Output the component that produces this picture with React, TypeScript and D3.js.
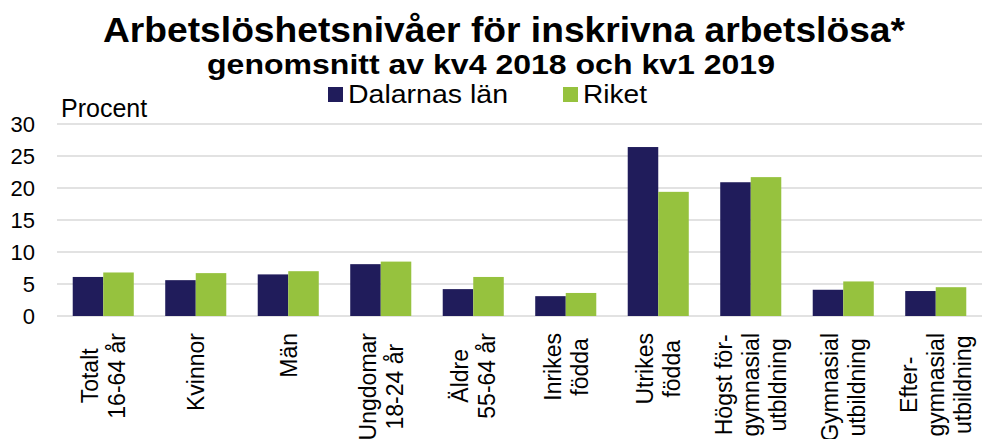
import React from "react";
import * as d3 from "d3";

const WIDTH = 982;
const HEIGHT = 439;
const Margin = { top: 124, right: 0, bottom: 123, left: 57 };
const FONT = "'Liberation Sans', Arial, sans-serif";

const categories = [
  "Totalt\n16-64 år",
  "Kvinnor",
  "Män",
  "Ungdomar\n18-24 år",
  "Äldre\n55-64 år",
  "Inrikes\nfödda",
  "Utrikes\nfödda",
  "Högst för-\ngymnasial\nutbldning",
  "Gymnasial\nutbildning",
  "Efter-\ngymnasial\nutbildning"
];
const seriesNames = ["Dalarnas län", "Riket"];
const seriesColors = ["#201C5B", "#96C23E"];
const dalarna = [6.1, 5.6, 6.5, 8.1, 4.2, 3.1, 26.4, 20.9, 4.1, 3.9];
const riket = [6.8, 6.7, 7.0, 8.5, 6.1, 3.6, 19.4, 21.7, 5.4, 4.5];
const yTicks = [0, 5, 10, 15, 20, 25, 30];

const App = () => {
  const svgRef = React.useRef<SVGSVGElement>(null);

  React.useEffect(() => {
    const svg = d3.select(svgRef.current);
    svg.selectAll("*").remove();

    const x = d3
      .scaleBand()
      .domain(categories)
      .range([Margin.left, WIDTH - Margin.right])
      .paddingInner(0.34)
      .paddingOuter(0.17);
    const x1 = d3
      .scaleBand()
      .domain(seriesNames)
      .range([0, x.bandwidth()]);
    const y = d3
      .scaleLinear()
      .domain([0, 30])
      .range([HEIGHT - Margin.bottom, Margin.top]);

    // titles
    svg
      .append("text")
      .attr("x", 103)
      .attr("y", 42)
      .attr("textLength", 802)
      .attr("lengthAdjust", "spacingAndGlyphs")
      .style("font", `bold 35px ${FONT}`)
      .text("Arbetslöshetsnivåer för inskrivna arbetslösa*");
    svg
      .append("text")
      .attr("x", 207)
      .attr("y", 74)
      .attr("textLength", 568)
      .attr("lengthAdjust", "spacingAndGlyphs")
      .style("font", `bold 28px ${FONT}`)
      .text("genomsnitt av kv4 2018 och kv1 2019");

    // legend
    const legendX = [328, 563];
    const legendW = [160, 64];
    seriesNames.forEach((name, i) => {
      svg
        .append("rect")
        .attr("x", legendX[i])
        .attr("y", 87)
        .attr("width", 15)
        .attr("height", 15)
        .attr("fill", seriesColors[i]);
      svg
        .append("text")
        .attr("x", legendX[i] + 20)
        .attr("y", 103)
        .attr("textLength", legendW[i])
        .attr("lengthAdjust", "spacingAndGlyphs")
        .style("font", `26px ${FONT}`)
        .text(name);
    });

    // y axis label
    svg
      .append("text")
      .attr("x", 61)
      .attr("y", 117)
      .style("font", `25px ${FONT}`)
      .text("Procent");

    // grid + y ticks
    const grid = svg.append("g");
    yTicks.forEach((t) => {
      grid
        .append("line")
        .attr("x1", Margin.left)
        .attr("x2", WIDTH - Margin.right)
        .attr("y1", y(t))
        .attr("y2", y(t))
        .attr("stroke", "#d9d9d9")
        .attr("stroke-width", 1.5);
      grid
        .append("text")
        .attr("x", 35)
        .attr("y", y(t))
        .attr("dy", "0.36em")
        .attr("text-anchor", "end")
        .style("font", `22px ${FONT}`)
        .text(t);
    });

    // bars
    const rows = categories.map((c, i) => ({ c, vals: [dalarna[i], riket[i]] }));
    const groups = svg
      .append("g")
      .selectAll("g")
      .data(rows)
      .join("g")
      .attr("transform", (d) => `translate(${x(d.c)},0)`);
    groups
      .selectAll("rect")
      .data((d) => d.vals.map((v, i) => ({ v, s: seriesNames[i], i })))
      .join("rect")
      .attr("x", (d) => x1(d.s)!)
      .attr("width", x1.bandwidth())
      .attr("y", (d) => y(d.v))
      .attr("height", (d) => y(0) - y(d.v))
      .attr("fill", (d) => seriesColors[d.i]);

    // x labels, rotated, lines centered
    const labelTop = 333;
    const fs = 23;
    const lh = 27;
    categories.forEach((c) => {
      const lines = c.split("\n");
      const cx = x(c)! + x.bandwidth() / 2;
      const g = svg
        .append("g")
        .attr("transform", `translate(${cx},${labelTop}) rotate(-90)`);
      const texts = lines.map((line, i) =>
        g
          .append("text")
          .attr("y", (i - (lines.length - 1) / 2) * lh + fs * 0.36)
          .attr("text-anchor", "middle")
          .style("font", `${fs}px ${FONT}`)
          .text(line)
      );
      const maxLen = d3.max(texts, (t) => (t.node() as SVGTextElement).getComputedTextLength()) || 0;
      texts.forEach((t) => t.attr("x", -maxLen / 2));
    });
  }, []);

  return (
    <svg
      ref={svgRef}
      width={WIDTH}
      height={HEIGHT}
      style={{ position: "absolute", left: 0, top: 0, background: "#fff" }}
    />
  );
};

export default App;
